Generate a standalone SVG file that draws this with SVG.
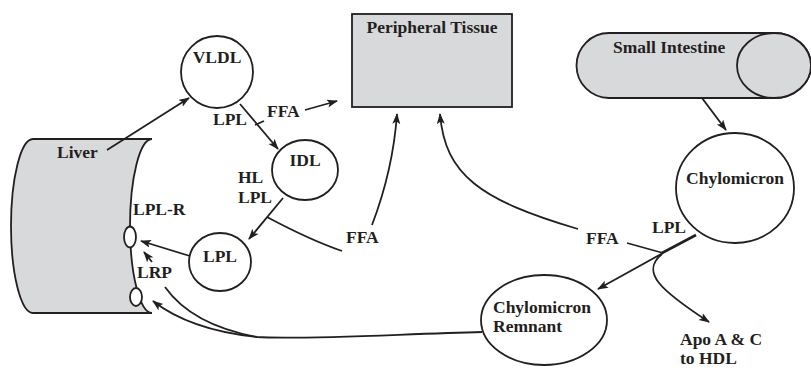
<svg xmlns="http://www.w3.org/2000/svg" width="811" height="370" viewBox="0 0 811 370">
<style>
text{font-family:"Liberation Serif","Times New Roman",serif;font-weight:bold;font-size:17.5px;fill:#231f20}
.shape{fill:#fff;stroke:#231f20;stroke-width:1.8}
.gray{fill:#d8d9db;stroke:#231f20;stroke-width:1.8}
.c{text-anchor:middle}
#connectors path{fill:none;stroke:#231f20;stroke-width:1.8}
</style>
<defs>
<marker id="ah" markerUnits="userSpaceOnUse" markerWidth="12" markerHeight="10" refX="10" refY="4" orient="auto">
<path d="M0,0 L11,4 L0,8 L2.5,4 Z" fill="#231f20"/>
</marker>
</defs>
<rect width="811" height="370" fill="#fff"/>

<g id="liver">
<path class="gray" d="M33,139 L152,139 A22,87 0 0 0 152,313 L33,313 A22,87 0 0 1 33,139 Z"/>
<text x="57" y="158">Liver</text>
</g>
<g id="lpl-r">
<ellipse class="shape" cx="130" cy="237" rx="6" ry="10.5"/>
<text x="133" y="215">LPL-R</text>
</g>
<g id="lrp">
<ellipse class="shape" cx="136" cy="297" rx="6" ry="9"/>
<text x="137" y="278">LRP</text>
</g>
<g id="vldl">
<circle class="shape" cx="217" cy="72" r="36"/>
<text class="c" x="217" y="63">VLDL</text>
</g>
<g id="idl">
<ellipse class="shape" cx="305" cy="170" rx="33" ry="30"/>
<text class="c" x="305" y="166">IDL</text>
</g>
<g id="lpl">
<ellipse class="shape" cx="220" cy="262" rx="31" ry="29"/>
<text class="c" x="220" y="262">LPL</text>
</g>
<g id="peripheral-tissue">
<rect class="gray" x="352" y="14" width="160" height="93"/>
<text class="c" x="432" y="33">Peripheral Tissue</text>
</g>
<g id="small-intestine">
<path class="gray" d="M609,33 L774,33 A37,32.5 0 0 1 774,98 L609,98 A32.5,32.5 0 0 1 609,33 Z"/>
<ellipse class="gray" cx="774" cy="65.5" rx="37" ry="32.5"/>
<text x="613" y="53">Small Intestine</text>
</g>
<g id="chylomicron">
<ellipse class="shape" cx="735" cy="188" rx="59" ry="55"/>
<text class="c" x="735" y="184">Chylomicron</text>
</g>
<g id="chylomicron-remnant">
<ellipse class="shape" cx="544" cy="320" rx="63" ry="45"/>
<text x="493" y="313">Chylomicron</text>
<text x="493" y="332">Remnant</text>
</g>
<g id="apo">
<text x="680" y="345">Apo A &amp; C</text>
<text x="680" y="364">to HDL</text>
</g>

<g id="connectors">
<path d="M107,150 L189,98" marker-end="url(#ah)"/>
<path d="M305,110 L337,101" marker-end="url(#ah)"/>
<path d="M240,104 L278,149" marker-end="url(#ah)"/>
<path d="M255,125 L264,121"/>
<path d="M283,198 L249,239" marker-end="url(#ah)"/>
<path d="M267,217 Q310,240 342,251"/>
<path d="M372,225 Q393,170 397,114" marker-end="url(#ah)"/>
<path d="M578,229 C480,200 445,175 440,114" marker-end="url(#ah)"/>
<path d="M702,98 L726,130" marker-end="url(#ah)"/>
<path d="M696,235 L662,253" style="stroke-width:2.6"/>
<path d="M663,253 L598,289" marker-end="url(#ah)"/>
<path d="M627,243 L663,253"/>
<path d="M662,254 C640,272 660,290 709,322" marker-end="url(#ah)"/>
<path d="M190,256 L141,241" marker-end="url(#ah)"/>
<path d="M152,262 L144,252" marker-end="url(#ah)"/>
<path d="M482,332 C400,334 300,340 257,337 Q190,330 153,301" marker-end="url(#ah)"/>
<path d="M257,337 Q192,325 165,287"/>
<text x="213" y="125">LPL</text>
<text x="267" y="117">FFA</text>
<text x="238" y="183">HL</text>
<text x="238" y="203">LPL</text>
<text x="346" y="243">FFA</text>
<text x="652" y="233">LPL</text>
<text x="586" y="244">FFA</text>
</g>
</svg>
